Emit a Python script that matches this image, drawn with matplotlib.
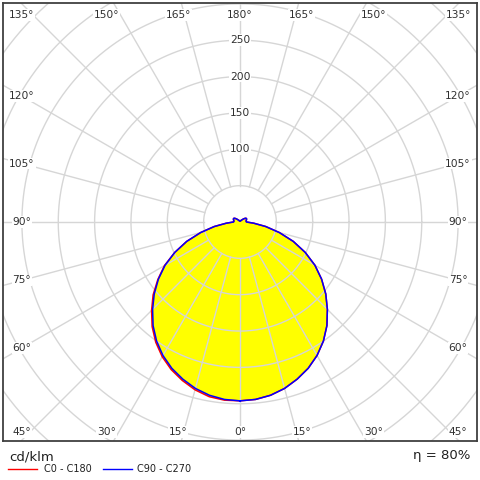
import numpy as np
import matplotlib
matplotlib.use("Agg")
import matplotlib.pyplot as plt
from matplotlib.lines import Line2D

# luminous intensity (cd/klm) vs gamma angle
gamma = [0, 5, 10, 15, 20, 25, 30, 35, 40, 45, 50, 55, 60, 65, 70, 75, 80, 85, 90,
         95, 100, 105, 110, 115, 120, 125, 130, 135, 140, 145, 150, 155, 160, 165,
         170, 175, 180]
c0 = [246, 245, 242, 237, 230, 222, 212, 200, 186, 170, 154, 137, 119, 99, 78, 56, 36, 19, 9,
      8.5, 8.5, 9, 9.5, 10, 10, 9, 7, 5, 3.5, 2.5, 2, 2, 2, 1.5, 1.5, 1.5, 1.5]
c180 = [246, 246, 244, 239, 232, 224, 214, 202, 188, 172, 156, 138, 120, 99, 78, 56, 36, 19, 9,
        8.5, 8.5, 9, 9.5, 10, 10, 9, 7, 5, 3.5, 2.5, 2, 2, 2, 1.5, 1.5, 1.5, 1.5]
c90 = [246, 245, 242, 237, 230, 222, 212, 200, 186, 170, 154, 137, 119, 99, 78, 56, 36, 19, 9,
       8.5, 8.5, 9, 9.5, 10, 10, 9, 7, 5, 3.5, 2.5, 2, 2, 2, 1.5, 1.5, 1.5, 1.5]
c270 = [246, 245, 242, 237, 230, 222, 212, 200, 186, 170, 154, 137, 119, 99, 78, 56, 36, 19, 9,
        8.5, 8.5, 9, 9.5, 10, 10, 9, 7, 5, 3.5, 2.5, 2, 2, 2, 1.5, 1.5, 1.5, 1.5]
ring_labels = [100, 150, 200, 250]
angle_labels = [0, 15, 30, 45, 60, 75, 90, 105, 120, 135, 150, 165, 180]
unit = "cd/klm"
eta_text = "\u03b7 = 80%"
series_names = ["C0 - C180", "C90 - C270"]

GRID = "#d6d6d6"
FS = 7.7


def outline(right, left):
    g = np.radians(gamma)
    r = np.asarray(right, float)
    l = np.asarray(left, float)
    x = np.concatenate([r * np.sin(g), (-l * np.sin(g))[::-1]])
    y = np.concatenate([-r * np.cos(g), (-l * np.cos(g))[::-1]])
    return x, y


fig = plt.figure(figsize=(4.8, 4.8), dpi=100)
fig.patch.set_facecolor("white")
# axes box in pixels: x 3..477, y 3..441 ; polar centre at (240, 222)
ax = fig.add_axes([3 / 480, 1 - 441 / 480, 474 / 480, 438 / 480])
ax.set_xlim(-326, 326)
ax.set_ylim(-301, 301)
ax.set_aspect("equal")
ax.set_xticks([]); ax.set_yticks([])
for s in ax.spines.values():
    s.set_color("#404040"); s.set_linewidth(1.3)

xr, yr = outline(c0, c180)
xb, yb = outline(c90, c270)
ax.fill(xr, yr, color="#ffff00", lw=0, zorder=1)
ax.fill(xb, yb, color="#ffff00", lw=0, zorder=1)

# grid: rings every 50 and spokes every 15 deg starting at the 50 ring
t = np.linspace(0, 2 * np.pi, 400)
for rr in range(50, 601, 50):
    ax.plot(rr * np.cos(t), rr * np.sin(t), color=GRID, lw=1.0, zorder=2)
for a in range(0, 360, 15):
    aa = np.radians(a)
    ax.plot([50 * np.sin(aa), 700 * np.sin(aa)], [-50 * np.cos(aa), -700 * np.cos(aa)],
            color=GRID, lw=1.0, zorder=2)

ax.plot(xr, yr, color="#ff0000", lw=1.1, zorder=3, solid_joinstyle="round")
ax.plot(xb, yb, color="#0000ff", lw=1.1, zorder=3, solid_joinstyle="round")

for v in ring_labels:
    ax.text(0, v, str(v), ha="center", va="center", fontsize=FS, color="#303030", zorder=4,
            bbox=dict(facecolor="white", edgecolor="none", pad=0.6))

# angle labels: on spoke at a box of half size (300, 318), clamped into view
for a in angle_labels:
    for side in ([1] if a in (0, 180) else [1, -1]):
        aa = np.radians(a)
        dx, dy = side * np.sin(aa), -np.cos(aa)
        k = min(300 / abs(dx) if abs(dx) > 1e-9 else 1e9, 318 / abs(dy) if abs(dy) > 1e-9 else 1e9)
        px, py = k * dx, k * dy
        px = np.clip(px, -301, 305)
        py = np.clip(py, -289, 285)
        ax.text(px, py, f"{a}\u00b0", ha="center", va="center", fontsize=FS, color="#303030",
                zorder=4, bbox=dict(facecolor="white", edgecolor="none", pad=0.6))

# footer
fig.text(9 / 480, 1 - 457 / 480, unit, fontsize=9.5, color="#202020", va="center", ha="left")
fig.text(470 / 480, 1 - 455 / 480, eta_text, fontsize=9.5, color="#202020", va="center", ha="right")
fig.add_artist(Line2D([8 / 480, 37 / 480], [1 - 469 / 480] * 2, color="#ff0000", lw=1.0))
fig.text(44 / 480, 1 - 469 / 480, series_names[0], fontsize=7, color="#202020", va="center")
fig.add_artist(Line2D([103 / 480, 132 / 480], [1 - 469 / 480] * 2, color="#0000ff", lw=1.0))
fig.text(137 / 480, 1 - 469 / 480, series_names[1], fontsize=7, color="#202020", va="center")

fig.savefig("out.png", dpi=100, facecolor="white")
